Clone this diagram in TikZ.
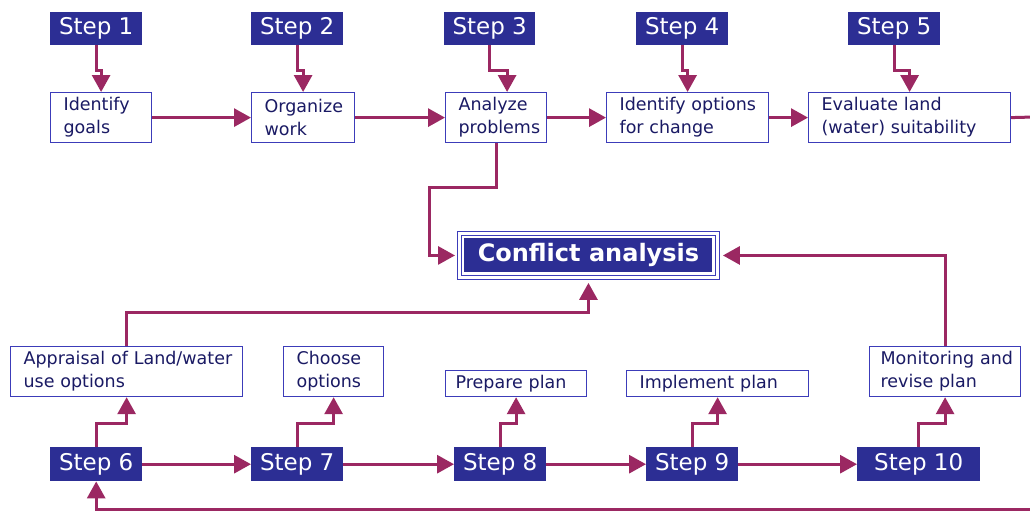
\documentclass[tikz,border=0pt]{standalone}
\usepackage{fontspec}
\setmainfont{DejaVu Sans}
\usetikzlibrary{arrows.meta,calc}
\definecolor{flow}{RGB}{155,40,98}
\definecolor{stepblue}{RGB}{44,46,148}
\definecolor{frameblue}{RGB}{60,60,185}
\definecolor{inkblue}{RGB}{26,26,100}
\newcommand\tline[1]{\mbox{#1}}

\begin{document}
\begin{tikzpicture}[x=1pt,y=-1pt,
  stepbox/.style={fill=stepblue, text=white, anchor=north west, inner sep=0pt,
    font=\fontsize{23}{26}\selectfont},
  taskbox/.style={draw=frameblue, line width=1.2pt, fill=white, text=inkblue,
    anchor=north west, inner xsep=13pt, inner ysep=0pt, align=left,
    font=\fontsize{17.5}{23}\selectfont},
  keybox/.style={draw=frameblue, line width=0.9pt, anchor=north west, inner sep=0pt,
    text=white, font=\fontsize{24}{28}\bfseries\selectfont,
    path picture={
      \draw[frameblue, line width=0.9pt]
        ([shift={(4pt,-4pt)}]path picture bounding box.north west) rectangle
        ([shift={(-4pt,4pt)}]path picture bounding box.south east);
      \fill[stepblue]
        ([shift={(7pt,-7pt)}]path picture bounding box.north west) rectangle
        ([shift={(-7pt,7pt)}]path picture bounding box.south east);
    }},
  flowline/.style={draw=flow, line width=3pt},
  arr/.style={flowline, -{Triangle[length=17pt,width=18pt]}},
]
\useasboundingbox[fill=white] (0,0) rectangle (1030,512);

% upper row of steps
\node[stepbox, minimum width=92pt, minimum height=33pt] (s1) at (50,12)  {Step 1};
\node[stepbox, minimum width=92pt, minimum height=33pt] (s2) at (251,12) {Step 2};
\node[stepbox, minimum width=91pt, minimum height=33pt] (s3) at (444,12) {Step 3};
\node[stepbox, minimum width=92pt, minimum height=33pt] (s4) at (636,12) {Step 4};
\node[stepbox, minimum width=92pt, minimum height=33pt] (s5) at (848,12) {Step 5};

% upper row of tasks
\node[taskbox, text width=75pt,  minimum height=50pt] (g1) at (50,92)  {\tline{Identify}\\\tline{goals}};
\node[taskbox, text width=77pt,  minimum height=50pt] (g2) at (251,92) {\tline{Organize}\\\tline{work}};
\node[taskbox, text width=75pt,  minimum height=50pt] (g3) at (445,92) {\tline{Analyze}\\\tline{problems}};
\node[taskbox, text width=136pt, minimum height=50pt] (g4) at (606,92) {\tline{Identify options}\\\tline{for change}};
\node[taskbox, text width=176pt, minimum height=50pt] (g5) at (808,92) {\tline{Evaluate land}\\\tline{(water) suitability}};

% central node
\node[keybox, minimum width=262pt, minimum height=48pt] (ca) at (457,231) {Conflict analysis};

% lower row of tasks
\node[taskbox, text width=206pt, minimum height=50pt] (a) at (10,346)  {\tline{Appraisal of Land/water}\\\tline{use options}};
\node[taskbox, text width=74pt,  minimum height=50pt] (c) at (283,346) {\tline{Choose}\\\tline{options}};
\node[taskbox, text width=121pt, minimum height=26pt, inner xsep=10pt] (p) at (445,370) {\tline{Prepare plan}};
\node[taskbox, text width=156pt, minimum height=26pt] (im) at (626,370) {\tline{Implement plan}};
\node[taskbox, text width=129pt, minimum height=50pt, inner xsep=11pt] (m) at (869,346) {\tline{Monitoring and}\\\tline{revise plan}};

% lower row of steps
\node[stepbox, minimum width=92pt,  minimum height=34pt] (s6)  at (50,447)  {Step 6};
\node[stepbox, minimum width=92pt,  minimum height=34pt] (s7)  at (251,447) {Step 7};
\node[stepbox, minimum width=92pt,  minimum height=34pt] (s8)  at (454,447) {Step 8};
\node[stepbox, minimum width=92pt,  minimum height=34pt] (s9)  at (646,447) {Step 9};
\node[stepbox, minimum width=123pt, minimum height=34pt] (s10) at (857,447) {Step 10};

% loose ends running off the right edge
\coordinate (eR) at (1034,117);
\coordinate (eB) at (1034,509);
\coordinate (k1) at (429,187);

% steps to their tasks (upper row)
\draw[arr] (s1.south) -- ++(0,25) -| (g1.north);
\draw[arr] (s2.south) -- ++(0,25) -| (g2.north);
\draw[arr] (s3.south) -- ++(0,25) -| ($(g3.north)+(11,0)$);
\draw[arr] (s4.south) -- ++(0,25) -| (g4.north);
\draw[arr] (s5.south) -- ++(0,25) -| (g5.north);

% task chain (upper row)
\draw[arr] (g1.east) -- (g2.west);
\draw[arr] (g2.east) -- (g3.west);
\draw[arr] (g3.east) -- (g4.west);
\draw[arr] (g4.east) -- (g5.west);
\draw[flowline] (g5.east) -- (eR);

% feeds into the conflict analysis
\draw[arr, shorten >=2pt] (g3.south) |- (k1) |- (ca.west);
\draw[arr, shorten >=3pt] (m.north) |- (ca.east);
\draw[arr, shorten >=3pt] (a.north) -- ++(0,-34) -| (ca.south);

% steps to their tasks (lower row)
\draw[arr] (s6.north)  -- ++(0,-24) -| (a.south);
\draw[arr] (s7.north)  -- ++(0,-24) -| (c.south);
\draw[arr] (s8.north)  -- ++(0,-24) -| (p.south);
\draw[arr] (s9.north)  -- ++(0,-24) -| (im.south);
\draw[arr] (s10.north) -- ++(0,-24) -| (m.south);

% step chain (lower row)
\draw[arr] (s6.east) -- (s7.west);
\draw[arr] (s7.east) -- (s8.west);
\draw[arr] (s8.east) -- (s9.west);
\draw[arr] (s9.east) -- (s10.west);

% return loop
\draw[arr] (eB) -| (s6.south);
\end{tikzpicture}
\end{document}
